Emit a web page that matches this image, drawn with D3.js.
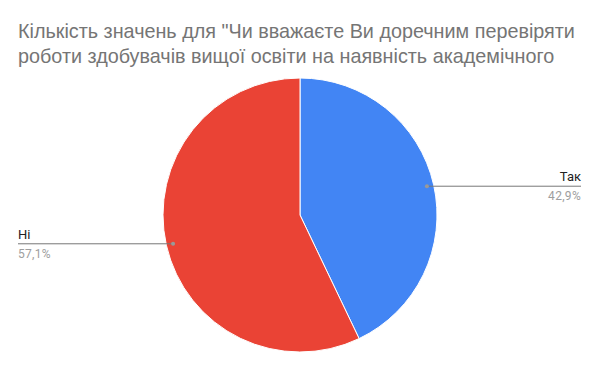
<!DOCTYPE HTML>
<html>
<head>
	<meta charset="utf-8">
	<style>
		body { margin: 0; background: #fff; }
		.title { font-family: "Liberation Sans", Arial, sans-serif; font-size: 19.8px; fill: #757575; }
		.lbl { font-family: Roboto, "Liberation Sans", sans-serif; font-size: 13px; fill: #222; }
		.pct { font-family: Roboto, "Liberation Sans", sans-serif; font-size: 12px; fill: #9e9e9e; letter-spacing: 0.3px; }
	</style>
	<script src="https://cdn.jsdelivr.net/npm/d3@7"></script>
</head>
<body>
<script>
	var categories = ["Так", "Ні"];
	var values = [42.9, 57.1];
	var pctLabels = ["42,9%", "57,1%"];
	var colors = ["#4285f4", "#ea4335"];
	var titleLines = ["Кількість значень для \"Чи вважаєте Ви доречним перевіряти",
		"роботи здобувачів вищої освіти на наявність академічного"];

	var width = 600, height = 371;
	var cx = 300, cy = 215, radius = 137;

	var svg = d3.select("body").append("svg")
		.attr("width", width)
		.attr("height", height);

	svg.selectAll(".title")
		.data(titleLines)
		.enter().append("text")
		.attr("class", "title")
		.attr("x", 18)
		.attr("y", function(d, i) { return 38 + i * 25; })
		.text(function(d) { return d; });

	var data = categories.map(function(c, i) { return {cat: c, value: values[i], pct: pctLabels[i], color: colors[i]}; });

	var pie = d3.pie().sort(null).value(function(d) { return d.value; });
	var arc = d3.arc().innerRadius(0).outerRadius(radius);
	var arcs = pie(data);

	var g = svg.append("g").attr("transform", "translate(" + cx + "," + cy + ")");

	g.selectAll("path")
		.data(arcs)
		.enter().append("path")
		.attr("d", arc)
		.attr("fill", function(d) { return d.data.color; })
		.attr("stroke", "#fff")
		.attr("stroke-width", 1);

	// leader lines
	var anchorR = radius * 0.95;
	arcs.forEach(function(a) {
		var mid = (a.startAngle + a.endAngle) / 2;
		var px = Math.sin(mid) * anchorR, py = -Math.cos(mid) * anchorR;
		var right = px > 0;
		var endX = right ? 581 - cx : 18 - cx;
		g.append("line")
			.attr("x1", px).attr("y1", py)
			.attr("x2", endX).attr("y2", py)
			.attr("stroke", "#777")
			.attr("stroke-width", 1);
		g.append("circle")
			.attr("cx", px).attr("cy", py)
			.attr("r", 2)
			.attr("fill", "#999");
		g.append("text")
			.attr("class", "lbl")
			.attr("x", endX)
			.attr("y", py - 5)
			.attr("text-anchor", right ? "end" : "start")
			.text(a.data.cat);
		g.append("text")
			.attr("class", "pct")
			.attr("x", endX)
			.attr("y", py + 14)
			.attr("text-anchor", right ? "end" : "start")
			.text(a.data.pct);
	});
</script>
</body>
</html>
